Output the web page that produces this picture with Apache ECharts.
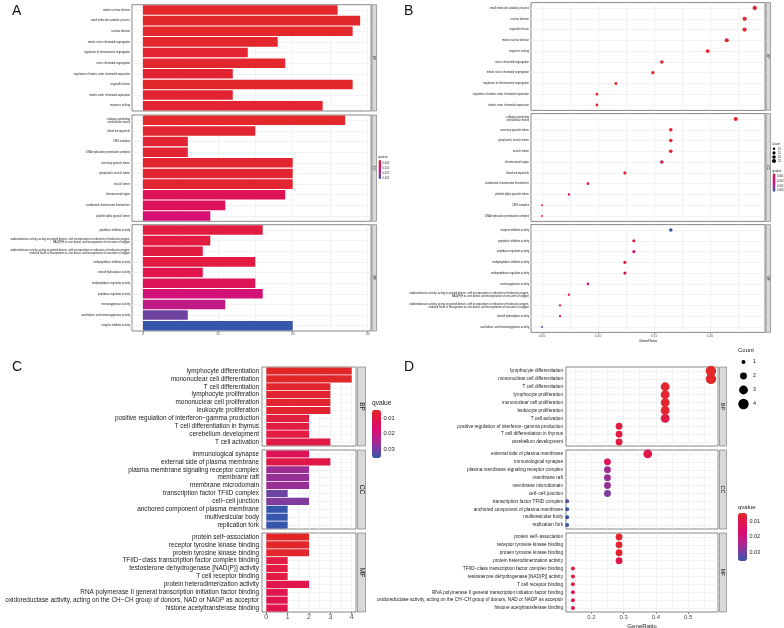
<!DOCTYPE html>
<html>
<head>
<meta charset="utf-8">
<script src="https://cdn.jsdelivr.net/npm/echarts@6/dist/echarts.min.js"></script>
<style>
  html, body { margin: 0; padding: 0; background: #fff; }
  #main { width: 784px; height: 628px; }
</style>
</head>
<body>
<div id="main"></div>
<script>
// ---------- data ----------
const oxNad = 'oxidoreductase activity, acting on paired donors, with incorporation or reduction of molecular oxygen,\nNAD(P)H as one donor, and incorporation of one atom of oxygen';
const oxFlavin = 'oxidoreductase activity, acting on paired donors, with incorporation or reduction of molecular oxygen,\nreduced flavin or flavoprotein as one donor, and incorporation of one atom of oxygen';
const collagen = 'collagen-containing\nextracellular matrix';

// A: bar plot (Count)
const aBpTerms = ['mitotic nuclear division', 'small molecule catabolic process', 'nuclear division', 'mitotic sister chromatid segregation', 'regulation of chromosome segregation', 'sister chromatid segregation', 'regulation of mitotic sister chromatid separation', 'organelle fission', 'mitotic sister chromatid separation', 'response to drug'];
const aBpCount = [26, 29, 28, 18, 14, 19, 12, 28, 12, 24];
const aBpQ = [0.0019, 0.0019, 0.0019, 0.0022, 0.0025, 0.0022, 0.0028, 0.0019, 0.0028, 0.0025];
const aCcTerms = [collagen, 'blood microparticle', 'CMG complex', 'DNA replication preinitiation complex', 'secretory granule lumen', 'cytoplasmic vesicle lumen', 'vesicle lumen', 'chromosomal region', 'condensed chromosome kinetochore', 'platelet alpha granule lumen'];
const aCcCount = [27, 15, 6, 6, 20, 20, 20, 19, 11, 9];
const aCcQ = [0.0019, 0.0025, 0.0030, 0.0030, 0.0026, 0.0026, 0.0026, 0.0066, 0.0072, 0.0100];
const aMfTerms = ['peptidase inhibitor activity', oxNad, oxFlavin, 'endopeptidase inhibitor activity', 'steroid hydroxylase activity', 'endopeptidase regulator activity', 'peptidase regulator activity', 'monooxygenase activity', 'arachidonic acid monooxygenase activity', 'enzyme inhibitor activity'];
const aMfCount = [16, 9, 8, 15, 8, 15, 16, 11, 6, 20];
const aMfQ = [0.0043, 0.0043, 0.0045, 0.0045, 0.0058, 0.0066, 0.0105, 0.0125, 0.0180, 0.0212];

// B: dot plot (GeneRatio)
const bBpTerms = ['small molecule catabolic process', 'nuclear division', 'organelle fission', 'mitotic nuclear division', 'response to drug', 'sister chromatid segregation', 'mitotic sister chromatid segregation', 'regulation of chromosome segregation', 'regulation of mitotic sister chromatid separation', 'mitotic sister chromatid separation'];
const bBpRatio = [0.240, 0.231, 0.231, 0.215, 0.198, 0.157, 0.149, 0.116, 0.099, 0.099];
const bBpCount = [29, 28, 28, 26, 24, 19, 18, 14, 12, 12];
const bBpQ = [0.0019, 0.0019, 0.0019, 0.0019, 0.0025, 0.0022, 0.0022, 0.0025, 0.0028, 0.0028];
const bCcTerms = [collagen, 'secretory granule lumen', 'cytoplasmic vesicle lumen', 'vesicle lumen', 'chromosomal region', 'blood microparticle', 'condensed chromosome kinetochore', 'platelet alpha granule lumen', 'CMG complex', 'DNA replication preinitiation complex'];
const bCcRatio = [0.223, 0.165, 0.165, 0.165, 0.157, 0.124, 0.091, 0.074, 0.050, 0.050];
const bCcCount = [27, 20, 20, 20, 19, 15, 11, 9, 6, 6];
const bCcQ = [0.0019, 0.0026, 0.0026, 0.0026, 0.0066, 0.0025, 0.0072, 0.0100, 0.0030, 0.0030];
const bMfTerms = ['enzyme inhibitor activity', 'peptidase inhibitor activity', 'peptidase regulator activity', 'endopeptidase inhibitor activity', 'endopeptidase regulator activity', 'monooxygenase activity', oxNad, oxFlavin, 'steroid hydroxylase activity', 'arachidonic acid monooxygenase activity'];
const bMfRatio = [0.165, 0.132, 0.132, 0.124, 0.124, 0.091, 0.074, 0.066, 0.066, 0.050];
const bMfCount = [20, 16, 16, 15, 15, 11, 9, 8, 8, 6];
const bMfQ = [0.0212, 0.0043, 0.0105, 0.0045, 0.0066, 0.0125, 0.0043, 0.0045, 0.0058, 0.0180];
const abLegendQ = [0.005, 0.010, 0.015, 0.020];
const bLegendCount = [10, 15, 20, 25];

// C: bar plot (Count)
const cBpTerms = ['lymphocyte differentiation', 'mononuclear cell differentiation', 'T cell differentiation', 'lymphocyte proliferation', 'mononuclear cell proliferation', 'leukocyte proliferation', 'positive regulation of interferon−gamma production', 'T cell differentiation in thymus', 'cerebellum development', 'T cell activation'];
const cBpCount = [4, 4, 3, 3, 3, 3, 2, 2, 2, 3];
const cBpQ = [0.0050, 0.0050, 0.0055, 0.0058, 0.0058, 0.0060, 0.0085, 0.0088, 0.0092, 0.0095];
const cCcTerms = ['immunological synapse', 'external side of plasma membrane', 'plasma membrane signaling receptor complex', 'membrane raft', 'membrane microdomain', 'transcription factor TFIID complex', 'cell−cell junction', 'anchored component of plasma membrane', 'multivesicular body', 'replication fork'];
const cCcCount = [2, 3, 2, 2, 2, 1, 2, 1, 1, 1];
const cCcQ = [0.0125, 0.0100, 0.0262, 0.0266, 0.0266, 0.0310, 0.0290, 0.0358, 0.0358, 0.0358];
const tcell = 'T cell receptor binding';
const rnaPol = 'RNA polymerase II general transcription initiation factor binding';
const oxChch = 'oxidoreductase activity, acting on the CH−CH group of donors, NAD or NADP as acceptor';
const cMfTerms = ['protein self−association', 'receptor tyrosine kinase binding', 'protein tyrosine kinase binding', 'TFIID−class transcription factor complex binding', 'testosterone dehydrogenase [NAD(P)] activity', tcell, 'protein heterodimerization activity', rnaPol, oxChch, 'histone acetyltransferase binding'];
const cMfCount = [2, 2, 2, 1, 1, 1, 2, 1, 1, 1];
const cMfQ = [0.0050, 0.0052, 0.0055, 0.0090, 0.0090, 0.0092, 0.0105, 0.0110, 0.0110, 0.0115];

// D: dot plot (GeneRatio)
const dBpTerms = ['lymphocyte differentiation', 'mononuclear cell differentiation', 'T cell differentiation', 'lymphocyte proliferation', 'mononuclear cell proliferation', 'leukocyte proliferation', 'T cell activation', 'positive regulation of interferon−gamma production', 'T cell differentiation in thymus', 'cerebellum development'];
const dBpRatio = [0.571, 0.571, 0.429, 0.429, 0.429, 0.429, 0.429, 0.286, 0.286, 0.286];
const dBpCount = [4, 4, 3, 3, 3, 3, 3, 2, 2, 2];
const dBpQ = [0.0050, 0.0050, 0.0055, 0.0058, 0.0058, 0.0060, 0.0095, 0.0085, 0.0088, 0.0092];
const dCcTerms = ['external side of plasma membrane', 'immunological synapse', 'plasma membrane signaling receptor complex', 'membrane raft', 'membrane microdomain', 'cell−cell junction', 'transcription factor TFIID complex', 'anchored component of plasma membrane', 'multivesicular body', 'replication fork'];
const dCcRatio = [0.375, 0.250, 0.250, 0.250, 0.250, 0.250, 0.125, 0.125, 0.125, 0.125];
const dCcCount = [3, 2, 2, 2, 2, 2, 1, 1, 1, 1];
const dCcQ = [0.0100, 0.0125, 0.0262, 0.0266, 0.0266, 0.0290, 0.0310, 0.0358, 0.0358, 0.0358];
const dMfTerms = ['protein self−association', 'receptor tyrosine kinase binding', 'protein tyrosine kinase binding', 'protein heterodimerization activity', 'TFIID−class transcription factor complex binding', 'testosterone dehydrogenase [NAD(P)] activity', tcell, rnaPol, oxChch, 'histone acetyltransferase binding'];
const dMfRatio = [0.286, 0.286, 0.286, 0.286, 0.143, 0.143, 0.143, 0.143, 0.143, 0.143];
const dMfCount = [2, 2, 2, 2, 1, 1, 1, 1, 1, 1];
const dMfQ = [0.0050, 0.0052, 0.0055, 0.0105, 0.0090, 0.0090, 0.0092, 0.0110, 0.0110, 0.0115];
const cdLegendQ = [0.01, 0.02, 0.03];
const dLegendCount = [1, 2, 3, 4];

const facetNames = ['BP', 'CC', 'MF'];

// ---------- layout ----------
const FONT = 'Liberation Sans, Arial, sans-serif';
const qColors = ['#E2282A', '#E0154E', '#D80C72', '#B8208A', '#7A3E9E', '#3656AC'];

const chart = echarts.init(document.getElementById('main'));
const grid = [], xAxis = [], yAxis = [], series = [], graphic = [], visualMap = [];

function addFacet(p, f, terms, makeSeries) {
  const gi = grid.length;
  const top = p.tops[f];
  const last = f === p.tops.length - 1;
  grid.push({left: p.left, top: top, width: p.width, height: p.height, show: true,
    outerBoundsMode: 'none', containLabel: false,
    borderColor: '#555', borderWidth: 0.7, backgroundColor: '#fff'});
  // light grid lines (major + minor)
  xAxis.push({gridIndex: gi, type: 'value', min: p.xMin, max: p.xMax, position: 'top',
    axisLine: {show: false}, axisLabel: {show: false},
    axisTick: {show: false, customValues: p.gridVals},
    splitLine: {show: true, lineStyle: {color: '#EBEBEB', width: 0.6}}});
  const xi = xAxis.length;
  xAxis.push({gridIndex: gi, type: 'value', min: p.xMin, max: p.xMax,
    name: last ? p.xName : '', nameLocation: 'middle', nameGap: p.nameGap,
    nameTextStyle: {fontSize: p.nameFont, color: '#1A1A1A', fontFamily: FONT},
    axisLine: {show: false}, splitLine: {show: false},
    axisTick: {show: last, customValues: p.majors, length: p.tickLen, lineStyle: {color: '#333', width: 0.5}},
    axisLabel: {show: last, customValues: p.majors, formatter: p.fmt, fontSize: p.xFont,
      color: '#4D4D4D', margin: p.xMargin, fontFamily: FONT}});
  const yi = yAxis.length;
  yAxis.push({gridIndex: gi, type: 'category', data: terms, inverse: true,
    axisLine: {show: false},
    axisTick: {alignWithLabel: true, length: p.tickLen, lineStyle: {color: '#333', width: 0.5}},
    axisLabel: {interval: 0, fontSize: p.yFont, lineHeight: p.yFont * 1.1, color: '#1A1A1A',
      margin: p.yMargin, fontFamily: FONT},
    splitLine: {show: true, alignWithLabel: true, lineStyle: {color: '#EBEBEB', width: 0.6}}});
  const s = makeSeries(xi, yi);
  s.silent = true;
  series.push(s);
  // facet strip on the right
  const sx = p.left + p.width + p.stripGap;
  graphic.push({type: 'rect', shape: {x: sx, y: top, width: p.stripW, height: p.height},
    style: {fill: '#D9D9D9', stroke: '#555', lineWidth: 0.5}});
  graphic.push({type: 'text', x: sx + p.stripW / 2, y: top + p.height / 2, rotation: -Math.PI / 2,
    style: {text: facetNames[f], fill: '#1A1A1A', fontSize: p.stripFont, fontFamily: FONT,
      align: 'center', verticalAlign: 'middle'}});
  return series.length - 1;
}

function barFacet(p, f, terms, counts, qs) {
  return addFacet(p, f, terms, (xi, yi) => ({
    type: 'bar', xAxisIndex: xi, yAxisIndex: yi, barCategoryGap: '10%',
    data: counts.map((c, i) => [c, terms[i], qs[i]]), encode: {x: 0, y: 1}
  }));
}

function dotFacet(p, f, terms, ratios, counts, qs, sizeFn) {
  return addFacet(p, f, terms, (xi, yi) => ({
    type: 'scatter', xAxisIndex: xi, yAxisIndex: yi,
    data: ratios.map((r, i) => [r, terms[i], qs[i], counts[i]]), encode: {x: 0, y: 1},
    symbolSize: v => sizeFn(v[3]), itemStyle: {opacity: 1}
  }));
}

function qLegend(idx, lg, min, max, ticks, fmt) {
  visualMap.push({type: 'continuous', seriesIndex: idx, dimension: 2, min: min, max: max,
    inverse: true, orient: 'vertical', left: lg.x, top: lg.y, itemWidth: lg.w, itemHeight: lg.h,
    padding: 0, calculable: false, hoverLink: false, text: null, inRange: {color: qColors},
    textStyle: {fontSize: 1, color: 'rgba(0,0,0,0)'}});
  graphic.push({type: 'text', x: lg.x, y: lg.y - lg.titleGap,
    style: {text: 'qvalue', fontSize: lg.titleFont, fill: '#1A1A1A', fontFamily: FONT, verticalAlign: 'bottom'}});
  ticks.forEach(t => {
    graphic.push({type: 'text', x: lg.x + lg.w + lg.labelGap, y: lg.y + (t - min) / (max - min) * lg.h,
      style: {text: fmt(t), fontSize: lg.labelFont, fill: '#1A1A1A', fontFamily: FONT, verticalAlign: 'middle'}});
  });
}

function countLegend(lg, counts, sizeFn) {
  graphic.push({type: 'text', x: lg.x, y: lg.y,
    style: {text: 'Count', fontSize: lg.titleFont, fill: '#1A1A1A', fontFamily: FONT, verticalAlign: 'bottom'}});
  counts.forEach((c, i) => {
    const cy = lg.y + lg.first + i * lg.step;
    graphic.push({type: 'circle', shape: {cx: lg.x + lg.keyW / 2, cy: cy, r: sizeFn(c) / 2}, style: {fill: '#000'}});
    graphic.push({type: 'text', x: lg.x + lg.keyW + lg.labelGap, y: cy,
      style: {text: String(c), fontSize: lg.labelFont, fill: '#1A1A1A', fontFamily: FONT, verticalAlign: 'middle'}});
  });
}

function letter(t, x, y) {
  graphic.push({type: 'text', x: x, y: y,
    style: {text: t, fontSize: 14, fill: '#111', fontFamily: FONT, verticalAlign: 'top'}});
}

// ---------- panel A ----------
const pA = {left: 132, width: 239, tops: [4.7, 115, 224.7], height: 106.3,
  xMin: -1.45, xMax: 30.45, majors: [0, 10, 20, 30], gridVals: [0, 5, 10, 15, 20, 25, 30],
  fmt: v => String(v), yFont: 2.7, xFont: 3.4, tickLen: 1.5, yMargin: 2, xMargin: 2,
  stripGap: 1, stripW: 4.5, stripFont: 3.2, xName: '', nameGap: 0, nameFont: 4};
const aIdx = [
  barFacet(pA, 0, aBpTerms, aBpCount, aBpQ),
  barFacet(pA, 1, aCcTerms, aCcCount, aCcQ),
  barFacet(pA, 2, aMfTerms, aMfCount, aMfQ)
];
qLegend(aIdx, {x: 378.5, y: 160, w: 2.6, h: 19, titleGap: 1, titleFont: 3, labelGap: 1.5, labelFont: 2.6},
  0.0019, 0.0212, abLegendQ, v => v.toFixed(3));
letter('A', 12, 4);

// ---------- panel B ----------
const bSize = c => 0.8 * Math.sqrt(c);
const pB = {left: 531, width: 234, tops: [2.6, 113.6, 224.6], height: 107.8,
  xMin: 0.0401, xMax: 0.2492, majors: [0.05, 0.10, 0.15, 0.20],
  gridVals: [0.05, 0.075, 0.10, 0.125, 0.15, 0.175, 0.20, 0.225],
  fmt: v => v.toFixed(2), yFont: 2.7, xFont: 3.4, tickLen: 1.5, yMargin: 2, xMargin: 2,
  stripGap: 1, stripW: 4.5, stripFont: 3.2, xName: 'GeneRatio', nameGap: 7, nameFont: 3.8};
const bIdx = [
  dotFacet(pB, 0, bBpTerms, bBpRatio, bBpCount, bBpQ, bSize),
  dotFacet(pB, 1, bCcTerms, bCcRatio, bCcCount, bCcQ, bSize),
  dotFacet(pB, 2, bMfTerms, bMfRatio, bMfCount, bMfQ, bSize)
];
countLegend({x: 772, y: 146, first: 2.8, step: 4.1, keyW: 4, labelGap: 2, titleFont: 3, labelFont: 2.6},
  bLegendCount, bSize);
qLegend(bIdx, {x: 772.5, y: 173.3, w: 3, h: 18.4, titleGap: 1, titleFont: 3, labelGap: 1.5, labelFont: 2.6},
  0.0019, 0.0212, abLegendQ, v => v.toFixed(3));
letter('B', 404, 4);

// ---------- panel C ----------
const pC = {left: 262, width: 94, tops: [367, 450, 533], height: 79,
  xMin: -0.2, xMax: 4.2, majors: [0, 1, 2, 3, 4], gridVals: [0, 0.5, 1, 1.5, 2, 2.5, 3, 3.5, 4],
  fmt: v => String(v), yFont: 6.4, xFont: 7, tickLen: 2.5, yMargin: 3, xMargin: 2,
  stripGap: 1.5, stripW: 8, stripFont: 6.5, xName: '', nameGap: 0, nameFont: 7};
const cIdx = [
  barFacet(pC, 0, cBpTerms, cBpCount, cBpQ),
  barFacet(pC, 1, cCcTerms, cCcCount, cCcQ),
  barFacet(pC, 2, cMfTerms, cMfCount, cMfQ)
];
qLegend(cIdx, {x: 372, y: 410, w: 9, h: 48, titleGap: 3, titleFont: 6.6, labelGap: 2.5, labelFont: 5.8},
  0.0048, 0.0358, cdLegendQ, v => v.toFixed(2));
letter('C', 12, 360);

// ---------- panel D ----------
const dSize = c => Math.sqrt(31 * c - 15);
const pD = {left: 566, width: 152, tops: [367, 450, 533], height: 79,
  xMin: 0.1214, xMax: 0.5929, majors: [0.2, 0.3, 0.4, 0.5],
  gridVals: [0.15, 0.2, 0.25, 0.3, 0.35, 0.4, 0.45, 0.5, 0.55],
  fmt: v => v.toFixed(1), yFont: 4.7, xFont: 6, tickLen: 2, yMargin: 3, xMargin: 2,
  stripGap: 1.5, stripW: 7, stripFont: 5.5, xName: 'GeneRatio', nameGap: 11, nameFont: 6.2};
const dIdx = [
  dotFacet(pD, 0, dBpTerms, dBpRatio, dBpCount, dBpQ, dSize),
  dotFacet(pD, 1, dCcTerms, dCcRatio, dCcCount, dCcQ, dSize),
  dotFacet(pD, 2, dMfTerms, dMfRatio, dMfCount, dMfQ, dSize)
];
countLegend({x: 738, y: 353, first: 9, step: 14, keyW: 11, labelGap: 4, titleFont: 6, labelFont: 5.4},
  dLegendCount, dSize);
qLegend(dIdx, {x: 738, y: 513, w: 9, h: 48, titleGap: 3, titleFont: 6, labelGap: 2.5, labelFont: 5.4},
  0.0048, 0.0358, cdLegendQ, v => v.toFixed(2));
letter('D', 404, 360);

chart.setOption({
  animation: false,
  textStyle: {fontFamily: FONT},
  grid: grid, xAxis: xAxis, yAxis: yAxis, series: series,
  visualMap: visualMap, graphic: graphic
});
</script>
</body>
</html>
